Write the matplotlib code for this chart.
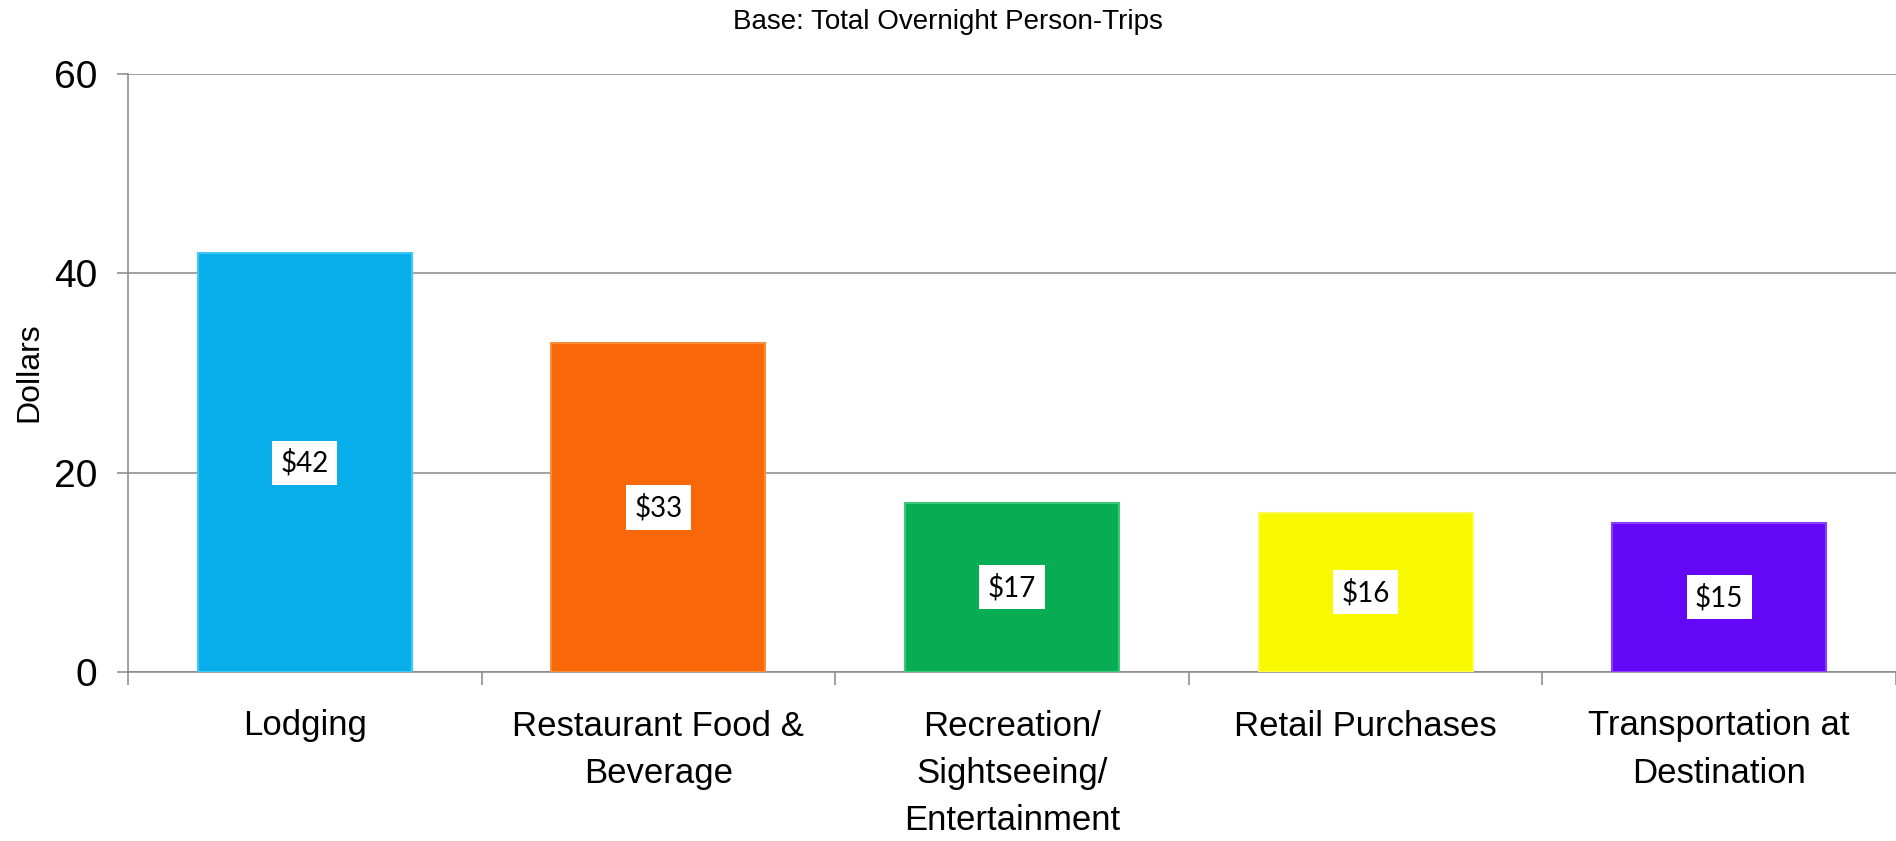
#Used for making plots
import matplotlib.pyplot as plt
#Library used to do maths
import numpy as np

#Chart data
categories = ["Lodging", "Restaurant Food &\nBeverage", "Recreation/\nSightseeing/\nEntertainment",
              "Retail Purchases", "Transportation at\nDestination"]
dollars = [42, 33, 17, 16, 15]
value_labels = ["$42", "$33", "$17", "$16", "$15"]
bar_colors = ["#08AEEA", "#F96808", "#08AC52", "#F8F800", "#6608F8"]
edge_colors = ["#40C8F4", "#FB8C3C", "#3CC878", "#FAFA50", "#8A40FA"]
y_ticks = [0, 20, 40, 60]

fig = plt.figure(figsize=(18.96, 8.41), dpi=100)
ax = fig.add_axes([128 / 1896, 1 - 672 / 841, 1 - 128 / 1896, (672 - 74) / 841])

x = np.arange(len(categories))
bars = ax.bar(x, dollars, width=0.605, color=bar_colors, edgecolor=edge_colors,
              linewidth=1.5, zorder=3)

#Value boxes sit in the middle of each bar
for xi, val, lab in zip(x, dollars, value_labels):
    ax.text(xi, val / 2, lab, ha="center", va="center", fontsize=20,
            family=["Lato", "DejaVu Sans"], zorder=4,
            bbox=dict(facecolor="white", edgecolor="none", boxstyle="square,pad=0.3"))

ax.set_ylim(0, 60)
ax.set_xlim(-0.5, len(categories) - 0.5)
ax.set_yticks(y_ticks)
ax.set_yticklabels([str(t) for t in y_ticks], fontsize=28, family="Liberation Sans")
ax.yaxis.grid(True, color="#888888", linewidth=1.1, zorder=0)

#Category labels at the centres, tick marks between categories
ax.set_xticks(x)
ax.set_xticklabels(categories, fontsize=25, family="Liberation Sans", linespacing=1.55)
ax.set_xticks(np.arange(-0.5, len(categories)), minor=True)
ax.tick_params(axis="x", which="major", length=0, pad=27)
ax.tick_params(axis="x", which="minor", length=9, width=1.1, color="#888888")
ax.tick_params(axis="y", length=8, width=1.1, color="#888888", pad=14)

for side in ["top", "right"]:
    ax.spines[side].set_visible(False)
for side in ["left", "bottom"]:
    ax.spines[side].set_color("#888888")
    ax.spines[side].set_linewidth(1.1)

fig.text(0.5, 0.974, "Base: Total Overnight Person-Trips", ha="center", va="center",
         fontsize=20, family="Liberation Sans")
fig.text(0.0156, 0.5577, "Dollars", rotation=90, ha="center", va="center",
         fontsize=23, family="Liberation Sans")

fig.savefig("out.png", dpi=100)
